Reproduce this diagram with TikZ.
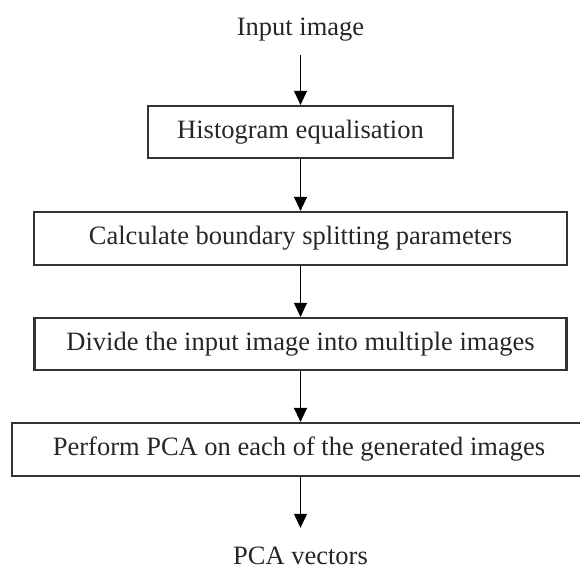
\documentclass[tikz,border=0pt]{standalone}
\usepackage{fontspec}
\setmainfont{Liberation Serif}
\usetikzlibrary{arrows.meta}
\begin{document}
\begin{tikzpicture}[x=1pt,y=-1pt,
  lbl/.style={font=\fontsize{26.5}{30}\selectfont, inner sep=0pt, text=black!85},
  procbox/.style={draw=black!80, line width=2.2pt, inner sep=0pt, font=\fontsize{26.5}{30}\selectfont, text=black!85},
  flow/.style={line width=1.2pt, -{Triangle[width=13pt,length=14pt]}}]
\useasboundingbox (0,0) rectangle (580,579);
\node[lbl, minimum height=50pt] (in) at (300.5,30) {Input image};
\node[procbox, minimum width=305pt, minimum height=52pt] (b1) at (300.5,132) {Histogram equalisation};
\node[procbox, minimum width=533pt, minimum height=53pt] (b2) at (300.5,238.5) {Calculate boundary splitting parameters};
\node[procbox, minimum width=532pt, minimum height=52pt] (b3) at (300.5,344) {Divide the input image into multiple images};
\node[procbox, minimum width=569pt, minimum height=53pt] (b4) at (296.5,449.5) {};
\node[lbl] (b4t) at (299,449.5) {Perform PCA on each of the generated images};
\node[lbl, minimum height=56pt] (out) at (300.5,556) {PCA vectors};
\draw[flow] (in) -- (b1);
\draw[flow] (b1) -- (b2);
\draw[flow] (b2) -- (b3);
\draw[flow] (b3) -- (b4.north -| b3.south);
\draw[flow] (b4.south -| b3.south) -- (out);
\end{tikzpicture}
\end{document}
